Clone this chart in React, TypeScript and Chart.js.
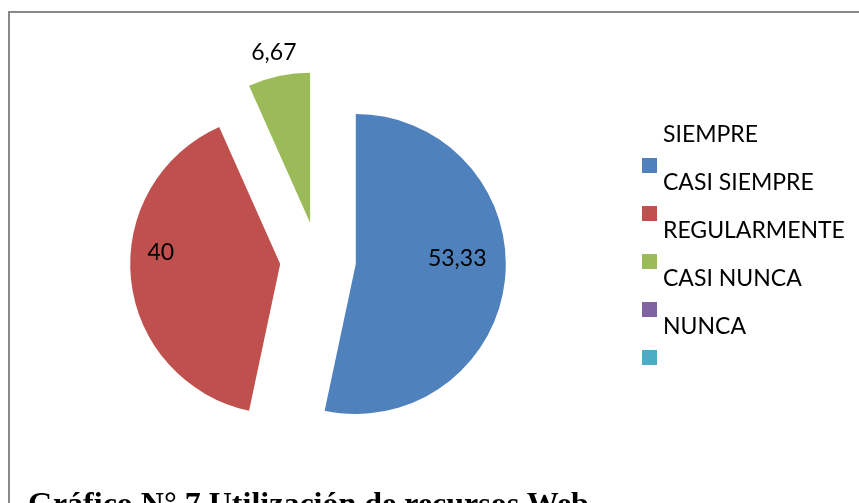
import React, { useEffect, useRef } from "react";
import { Chart, registerables } from "chart.js";

Chart.register(...registerables);

// ---- data ----
const categories = ["SIEMPRE", "CASI SIEMPRE", "REGULARMENTE", "CASI NUNCA", "NUNCA"];
const values = [53.33, 40, 6.67, 0, 0];
const colors = ["#4F81BD", "#C0504D", "#9BBB59", "#8064A2", "#4BACC6"];
const titleText = "Gráfico N° 7 Utilización de recursos Web";

// ---- style / layout ----
const EXPLODE = 38; // px each slice is pulled out
const LABEL_RADIUS = [0.68, 0.8, 1.16]; // fraction of radius for label placement
const LABEL_DY = [-16, -24, 0];
const FONT = "Lato, 'Open Sans', sans-serif";

const fmt = (v: number) => String(v).replace(".", ",");

const explodePlugin = {
  id: "explode",
  beforeDatasetDraw(chart: any, args: any) {
    const ctx = chart.ctx;
    args.meta.data.forEach((arc: any) => {
      const { startAngle, endAngle } = arc.getProps(["startAngle", "endAngle"]);
      if (endAngle - startAngle <= 0) return;
      const mid = (startAngle + endAngle) / 2;
      ctx.save();
      ctx.translate(Math.cos(mid) * EXPLODE, Math.sin(mid) * EXPLODE);
      arc.draw(ctx);
      ctx.restore();
    });
    return false;
  },
  afterDatasetsDraw(chart: any) {
    const ctx = chart.ctx;
    const meta = chart.getDatasetMeta(0);
    ctx.save();
    ctx.font = `23px ${FONT}`;
    ctx.fillStyle = "#000";
    ctx.textAlign = "center";
    ctx.textBaseline = "middle";
    meta.data.forEach((arc: any, i: number) => {
      const v = values[i];
      if (!v) return;
      const { x, y, startAngle, endAngle, outerRadius } = arc.getProps([
        "x", "y", "startAngle", "endAngle", "outerRadius",
      ]);
      const mid = (startAngle + endAngle) / 2;
      const d = EXPLODE + outerRadius * (LABEL_RADIUS[i] ?? 0.7);
      ctx.fillText(fmt(v), x + Math.cos(mid) * d, y + Math.sin(mid) * d + (LABEL_DY[i] ?? 0));
    });
    ctx.restore();
  },
  afterDraw(chart: any) {
    const ctx = chart.ctx;
    ctx.save();
    ctx.font = `23px ${FONT}`;
    ctx.textAlign = "left";
    ctx.textBaseline = "alphabetic";
    ctx.fillStyle = "#000";
    const lx = 663, mx = 642, rowH = 48;
    categories.forEach((c, i) => {
      ctx.fillText(c, lx, 142 + rowH * i);
    });
    colors.forEach((col, i) => {
      ctx.fillStyle = col;
      ctx.fillRect(mx, 158 + rowH * i, 15, 15);
    });
    ctx.restore();
  },
};

export default function App() {
  const ref = useRef<HTMLCanvasElement>(null);
  useEffect(() => {
    if (!ref.current) return;
    const chart = new Chart(ref.current, {
      type: "pie",
      data: {
        labels: categories,
        datasets: [
          {
            data: values,
            backgroundColor: colors,
            borderWidth: 0,
          },
        ],
      },
      options: {
        animation: false,
        responsive: false,
        devicePixelRatio: 1,
        events: [],
        layout: { padding: { left: 168, right: 391, top: 110, bottom: 93 } },
        plugins: { legend: { display: false }, tooltip: { enabled: false } },
      },
      plugins: [explodePlugin],
    });
    return () => chart.destroy();
  }, []);

  return (
    <div style={{ position: "absolute", left: 0, top: 0, width: 859, height: 503, overflow: "hidden", background: "#fff" }}>
      <div
        style={{
          position: "absolute",
          left: 8,
          top: 11,
          width: 1000,
          height: 1000,
          borderLeft: "2px solid #888",
          borderTop: "2px solid #888",
        }}
      />
      <canvas ref={ref} width={859} height={503} style={{ position: "absolute", left: 0, top: 0 }} />
      <div
        style={{
          position: "absolute",
          left: 28,
          top: 485,
          fontFamily: "'Liberation Serif', 'Times New Roman', serif",
          fontWeight: "bold",
          fontSize: 32,
          lineHeight: "36px",
          whiteSpace: "nowrap",
          color: "#000",
        }}
      >
        {titleText}
      </div>
    </div>
  );
}
